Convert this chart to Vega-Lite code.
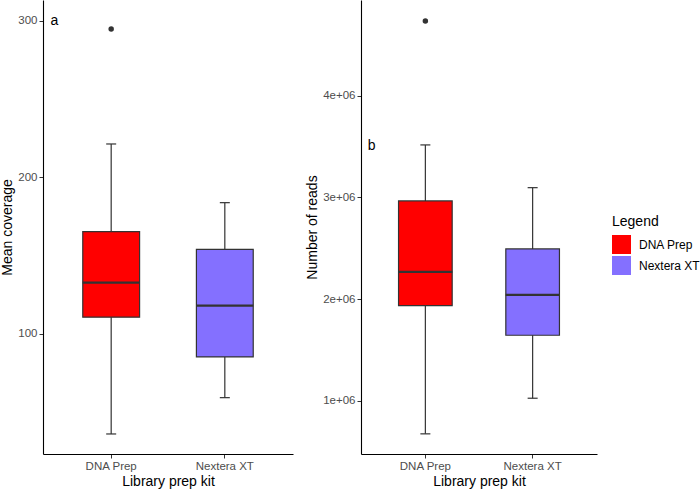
{
  "$schema": "https://vega.github.io/schema/vega-lite/v6.json",
  "padding": {"left": 0, "top": 0, "right": 0, "bottom": 0},
  "background": "white",
  "config": {
    "font": "Liberation Sans",
    "view": {"stroke": null},
    "axis": {
      "grid": false,
      "domainColor": "#000000",
      "domainWidth": 1.1,
      "tickColor": "#333333",
      "tickSize": 4,
      "labelColor": "#4D4D4D",
      "labelFontSize": 11.5,
      "titleColor": "#000000",
      "titleFontSize": 14,
      "titleFontWeight": "normal",
      "labelPadding": 2,
      "titlePadding": 3
    },
    "legend": {
      "titleFontSize": 14,
      "titleFontWeight": "normal",
      "titleColor": "#000000",
      "labelFontSize": 12,
      "labelColor": "#000000",
      "labelOffset": 8,
      "symbolType": "square",
      "symbolSize": 361,
      "symbolStrokeWidth": 0,
      "rowPadding": 2,
      "titlePadding": 6
    },
    "concat": {"spacing": 12}
  },
  "datasets": {
    "cov": [
      {"kit": "DNA Prep", "lower": 36.1, "q1": 110.7, "median": 132.8, "q3": 165.4, "upper": 221.4},
      {"kit": "Nextera XT", "lower": 59.3, "q1": 85.3, "median": 118.1, "q3": 154.1, "upper": 183.9}
    ],
    "cov_out": [{"kit": "DNA Prep", "value": 294.9}],
    "cov_lab": [{"label": "a", "value": 300}],
    "reads": [
      {"kit": "DNA Prep", "lower": 677000, "q1": 1937000, "median": 2268000, "q3": 2966000, "upper": 3516000},
      {"kit": "Nextera XT", "lower": 1027000, "q1": 1646000, "median": 2042000, "q3": 2494000, "upper": 3096000}
    ],
    "reads_out": [{"kit": "DNA Prep", "value": 4734000}],
    "reads_lab": [{"label": "b", "value": 3510000}]
  },
  "hconcat": [
    {
      "width": 250,
      "height": 454,
      "encoding": {
        "x": {
          "field": "kit", "type": "nominal",
          "scale": {"type": "band", "domain": ["DNA Prep", "Nextera XT"], "paddingInner": 0.5, "paddingOuter": 0.35},
          "axis": {"title": "Library prep kit", "labelAngle": 0}
        }
      },
      "layer": [
        {
          "data": {"name": "cov"},
          "mark": {"type": "rule", "color": "#333333", "strokeWidth": 1.2},
          "encoding": {
            "y": {"field": "lower", "type": "quantitative",
                  "scale": {"domain": [23.3, 313.4], "nice": false, "zero": false},
                  "axis": {"title": "Mean coverage", "values": [100, 200, 300]}},
            "y2": {"field": "upper"}
          }
        },
        {
          "data": {"name": "cov"},
          "mark": {"type": "tick", "color": "#333333", "size": 10, "thickness": 1.2, "opacity": 1},
          "encoding": {"y": {"field": "lower", "type": "quantitative"}}
        },
        {
          "data": {"name": "cov"},
          "mark": {"type": "tick", "color": "#333333", "size": 10, "thickness": 1.2, "opacity": 1},
          "encoding": {"y": {"field": "upper", "type": "quantitative"}}
        },
        {
          "data": {"name": "cov"},
          "mark": {"type": "bar", "stroke": "#333333", "strokeWidth": 1.2, "opacity": 1},
          "encoding": {
            "y": {"field": "q1", "type": "quantitative"},
            "y2": {"field": "q3"},
            "color": {"field": "kit", "type": "nominal",
                      "scale": {"domain": ["DNA Prep", "Nextera XT"], "range": ["#FF0000", "#8470FF"]},
                      "legend": {"title": "Legend", "orient": "none", "legendX": 569, "legendY": 215}}
          }
        },
        {
          "data": {"name": "cov"},
          "mark": {"type": "tick", "color": "#333333", "size": 57, "thickness": 2.2, "opacity": 1},
          "encoding": {"y": {"field": "median", "type": "quantitative"}}
        },
        {
          "data": {"name": "cov_out"},
          "mark": {"type": "point", "filled": true, "color": "#333333", "size": 30, "opacity": 1},
          "encoding": {"y": {"field": "value", "type": "quantitative"}}
        },
        {
          "data": {"name": "cov_lab"},
          "mark": {"type": "text", "fontSize": 14, "color": "#000000", "align": "center", "baseline": "middle"},
          "encoding": {
            "x": {"datum": "DNA Prep", "bandPosition": -0.5},
            "y": {"field": "value", "type": "quantitative"},
            "text": {"field": "label"}
          }
        }
      ]
    },
    {
      "width": 236,
      "height": 454,
      "encoding": {
        "x": {
          "field": "kit", "type": "nominal",
          "scale": {"type": "band", "domain": ["DNA Prep", "Nextera XT"], "paddingInner": 0.5, "paddingOuter": 0.35},
          "axis": {"title": "Library prep kit", "labelAngle": 0}
        }
      },
      "layer": [
        {
          "data": {"name": "reads"},
          "mark": {"type": "rule", "color": "#333333", "strokeWidth": 1.2},
          "encoding": {
            "y": {"field": "lower", "type": "quantitative",
                  "scale": {"domain": [479000, 4940000], "nice": false, "zero": false},
                  "axis": {"title": "Number of reads", "values": [1000000, 2000000, 3000000, 4000000],
                           "labelExpr": "replace(format(datum.value, '.0e'), 'e+6', 'e+06')"}},
            "y2": {"field": "upper"}
          }
        },
        {
          "data": {"name": "reads"},
          "mark": {"type": "tick", "color": "#333333", "size": 10, "thickness": 1.2, "opacity": 1},
          "encoding": {"y": {"field": "lower", "type": "quantitative"}}
        },
        {
          "data": {"name": "reads"},
          "mark": {"type": "tick", "color": "#333333", "size": 10, "thickness": 1.2, "opacity": 1},
          "encoding": {"y": {"field": "upper", "type": "quantitative"}}
        },
        {
          "data": {"name": "reads"},
          "mark": {"type": "bar", "stroke": "#333333", "strokeWidth": 1.2, "opacity": 1},
          "encoding": {
            "y": {"field": "q1", "type": "quantitative"},
            "y2": {"field": "q3"},
            "color": {"field": "kit", "type": "nominal",
                      "scale": {"domain": ["DNA Prep", "Nextera XT"], "range": ["#FF0000", "#8470FF"]},
                      "legend": {"title": "Legend", "orient": "none", "legendX": 569, "legendY": 215}}
          }
        },
        {
          "data": {"name": "reads"},
          "mark": {"type": "tick", "color": "#333333", "size": 54, "thickness": 2.2, "opacity": 1},
          "encoding": {"y": {"field": "median", "type": "quantitative"}}
        },
        {
          "data": {"name": "reads_out"},
          "mark": {"type": "point", "filled": true, "color": "#333333", "size": 30, "opacity": 1},
          "encoding": {"y": {"field": "value", "type": "quantitative"}}
        },
        {
          "data": {"name": "reads_lab"},
          "mark": {"type": "text", "fontSize": 14, "color": "#000000", "align": "center", "baseline": "middle"},
          "encoding": {
            "x": {"datum": "DNA Prep", "bandPosition": -0.5},
            "y": {"field": "value", "type": "quantitative"},
            "text": {"field": "label"}
          }
        }
      ]
    }
  ]
}
